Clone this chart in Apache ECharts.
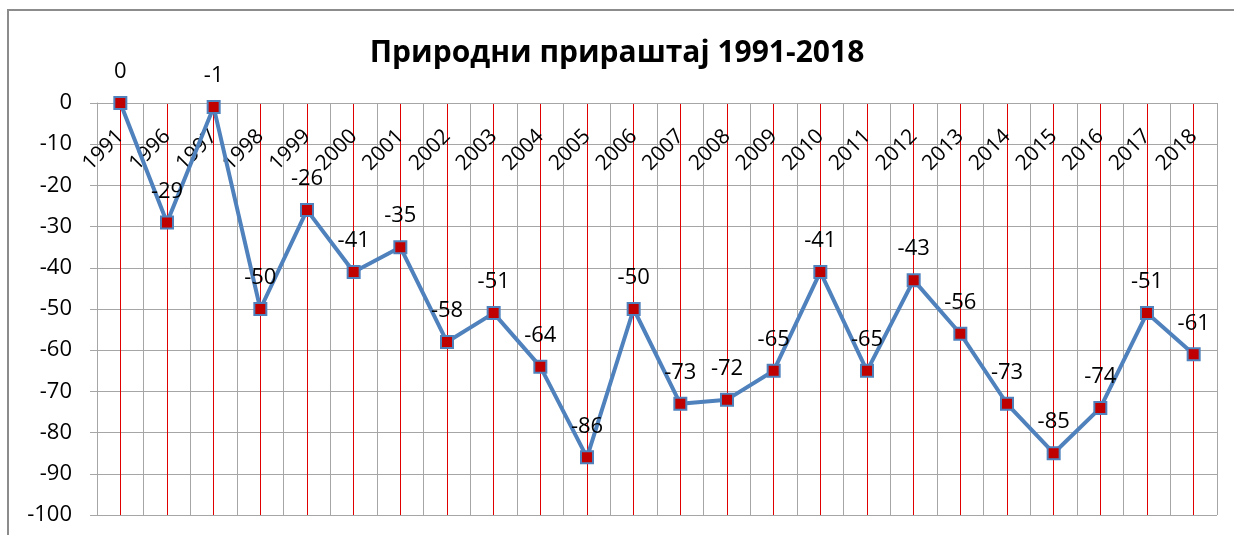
<!DOCTYPE html>
<html>
<head>
<meta charset="utf-8">
<title>Природни прираштај 1991-2018</title>
<script src="https://cdn.jsdelivr.net/npm/echarts@6/dist/echarts.min.js"></script>
<style>
  html, body { margin: 0; padding: 0; background: #fff; }
  #chart { width: 1234px; height: 535px; }
</style>
</head>
<body>
<div id="chart"></div>
<script>
// podaci
var godine = ['1991','1996','1997','1998','1999','2000','2001','2002','2003','2004','2005','2006',
  '2007','2008','2009','2010','2011','2012','2013','2014','2015','2016','2017','2018'];
var prirastaj = [0,-29,-1,-50,-26,-41,-35,-58,-51,-64,-86,-50,-73,-72,-65,-41,-65,-43,-56,-73,-85,-74,-51,-61];
var yMin = -100, yMax = 0, yKorak = 10;

var fontFam = '"Open Sans", "Liberation Sans", sans-serif';
var gridTop = 103, gridBottom = 20;
var visinaGrida = 535 - gridTop - gridBottom;
var myChart = echarts.init(document.getElementById('chart'));

var option = {
  backgroundColor: '#fff',
  animation: false,
  title: {
    text: 'Природни прираштај 1991-2018',
    left: 'center',
    top: 33,
    textStyle: { fontFamily: fontFam, fontSize: 30, fontWeight: 'bold', color: '#000' }
  },
  // okvir grafikona
  graphic: [{
    type: 'rect',
    shape: { x: 8, y: 10, width: 1240, height: 560 },
    style: { fill: 'none', stroke: '#8c8c8c', lineWidth: 2 },
    silent: true
  }],
  grid: { left: 97, right: 17, top: gridTop, bottom: gridBottom, outerBoundsMode: 'none', containLabel: false },
  xAxis: [{
    type: 'category',
    data: godine,
    boundaryGap: true,
    // osa ide na nulu, tj. na vrh grafikona
    offset: -visinaGrida,
    axisLine: { onZero: false, lineStyle: { color: '#a6a6a6' } },
    axisTick: { show: false },
    splitLine: { show: true, lineStyle: { color: '#a6a6a6', width: 1 } },
    axisLabel: {
      rotate: 45,
      margin: 30,
      interval: 0,
      fontFamily: fontFam,
      fontSize: 21,
      color: '#000'
    },
    z: 3
  }, {
    // pomocna osa samo za crvene linije kroz sredinu svake godine
    type: 'value',
    min: 0,
    max: godine.length,
    interval: 1,
    position: 'top',
    axisLine: { show: false },
    axisTick: { show: false },
    axisLabel: { show: false },
    splitLine: { show: false },
    minorTick: { show: false, splitNumber: 2 },
    minorSplitLine: { show: true, lineStyle: { color: '#e00000', width: 1 } }
  }],
  yAxis: {
    type: 'value',
    min: yMin,
    max: yMax,
    interval: yKorak,
    axisLine: { show: true, lineStyle: { color: '#a6a6a6' } },
    axisTick: { show: true, length: 7, lineStyle: { color: '#a6a6a6' } },
    splitLine: { lineStyle: { color: '#a6a6a6', width: 1 } },
    axisLabel: { fontFamily: fontFam, fontSize: 22, color: '#000', margin: 25 }
  },
  series: [{
    type: 'line',
    xAxisIndex: 0,
    data: prirastaj,
    symbol: 'rect',
    symbolSize: 12,
    lineStyle: { color: '#4f81bd', width: 4 },
    itemStyle: { color: '#c00000', borderColor: '#4f81bd', borderWidth: 2 },
    label: {
      show: true,
      position: 'top',
      distance: 13,
      fontFamily: fontFam,
      fontSize: 22,
      color: '#000'
    },
    z: 5
  }]
};

myChart.setOption(option);
</script>
</body>
</html>
